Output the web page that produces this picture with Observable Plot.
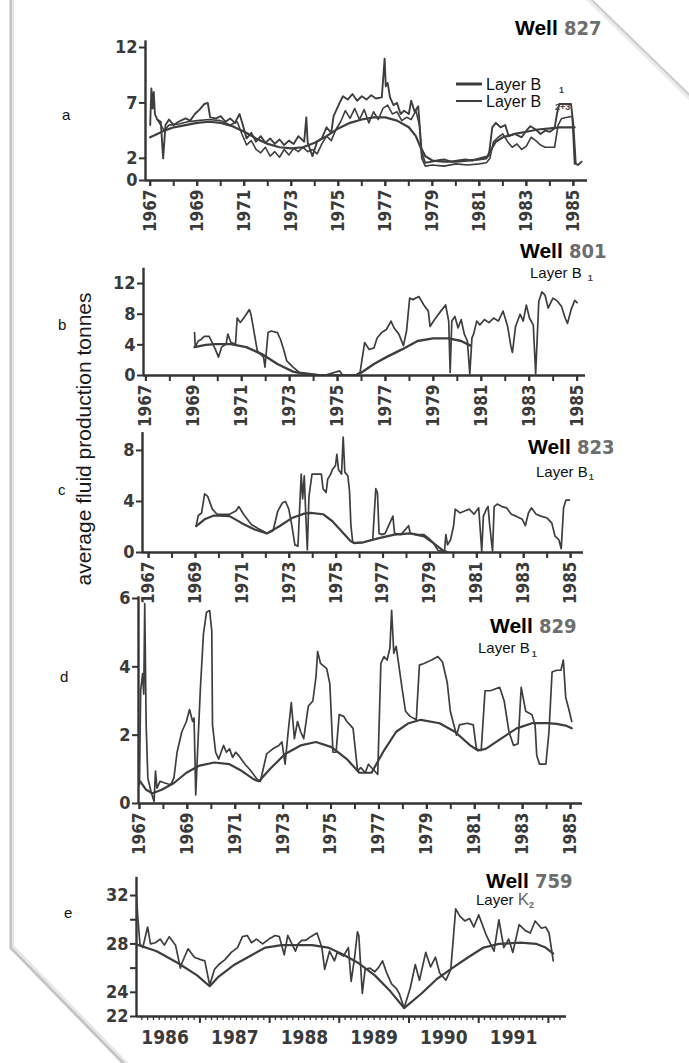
<!DOCTYPE html>
<html>
<head>
<meta charset="utf-8">
<script src="https://cdn.jsdelivr.net/npm/d3@7"></script>
<script src="https://cdn.jsdelivr.net/npm/@observablehq/plot@0.6"></script>
<style>
  html, body { margin: 0; padding: 0; background: #fff; }
  #page { position: relative; width: 689px; height: 1063px; overflow: hidden; background: #fff; }
  #page svg.plotsvg { position: absolute; left: 0; }
  #overlay { position: absolute; left: 0; top: 0; pointer-events: none; }
</style>
</head>
<body>
<div id="page"></div>
<script>
// ---------------- DATA ----------------
// Panel a – Well 827 (tonnes vs year)
const well827_B1 = [
  [1967.0,5.0],[1967.05,8.3],[1967.1,6.5],[1967.15,8.0],[1967.2,6.0],[1967.3,5.5],[1967.45,5.3],[1967.55,2.0],[1967.65,5.0],[1967.8,5.5],
  [1968.0,5.0],[1968.2,5.3],[1968.5,5.6],[1968.7,5.4],[1968.9,6.0],[1969.1,6.4],[1969.3,6.9],[1969.45,7.0],[1969.55,5.7],[1969.8,5.6],
  [1970.0,5.8],[1970.2,5.3],[1970.4,5.6],[1970.6,5.2],[1970.8,6.0],[1970.9,5.3],[1971.1,3.8],[1971.3,4.3],[1971.5,3.5],[1971.7,4.0],
  [1971.9,3.4],[1972.1,3.8],[1972.3,3.3],[1972.5,3.7],[1972.7,3.2],[1972.9,3.6],[1973.1,3.3],[1973.3,4.0],[1973.55,3.5],[1973.64,5.7],
  [1973.7,3.4],[1973.9,2.2],[1974.1,3.5],[1974.3,3.8],[1974.5,4.8],[1974.7,4.3],[1974.8,5.8],[1975.1,7.2],[1975.2,7.6],[1975.4,7.3],
  [1975.6,7.8],[1975.8,7.2],[1976.0,7.6],[1976.2,7.3],[1976.4,7.7],[1976.6,7.4],[1976.85,7.5],[1976.92,9.5],[1976.97,11.0],[1977.02,8.5],
  [1977.1,8.8],[1977.2,7.5],[1977.35,6.8],[1977.5,7.0],[1977.65,6.0],[1977.8,6.3],[1978.0,6.0],[1978.1,7.2],[1978.25,6.2],[1978.4,6.7],
  [1978.55,2.5],[1978.7,1.6],[1979.0,1.7],[1979.2,1.8],[1979.5,1.9],[1979.8,1.7],[1980.1,1.8],[1980.4,1.9],[1980.7,1.8],[1981.0,2.0],
  [1981.2,2.1],[1981.4,2.2],[1981.55,4.8],[1981.7,5.2],[1981.9,4.8],[1982.1,5.0],[1982.25,4.0],[1982.5,4.2],[1982.8,3.9],[1983.0,4.5],
  [1983.17,4.9],[1983.4,4.6],[1983.6,4.2],[1983.8,4.5],[1984.0,4.4],[1984.2,4.7],[1984.3,6.0],[1984.4,6.9],[1984.9,6.9],[1985.0,5.0],
  [1985.1,1.5],[1985.2,1.4],[1985.35,1.7]
];
const well827_B23 = [
  [1967.3,5.5],[1967.6,4.5],[1967.8,5.0],[1968.2,5.1],[1968.6,5.3],[1969.0,5.4],[1969.5,5.5],[1970.0,5.4],[1970.4,5.0],[1970.7,5.3],
  [1970.9,4.2],[1971.1,3.2],[1971.3,3.6],[1971.5,2.8],[1971.7,2.5],[1971.9,3.0],[1972.1,2.2],[1972.3,2.6],[1972.5,2.1],[1972.7,2.8],
  [1972.9,2.3],[1973.1,2.9],[1973.3,2.6],[1973.5,3.0],[1973.7,2.6],[1973.9,2.8],[1974.1,2.4],[1974.3,3.3],[1974.5,4.0],[1974.7,3.6],
  [1974.9,4.6],[1975.1,5.3],[1975.3,6.3],[1975.5,5.6],[1975.7,6.5],[1975.9,5.5],[1976.1,6.4],[1976.3,5.2],[1976.5,6.2],[1976.7,5.5],
  [1976.9,6.5],[1977.1,6.8],[1977.3,6.0],[1977.5,6.2],[1977.7,5.4],[1977.9,5.7],[1978.1,5.5],[1978.3,6.3],[1978.45,5.0],[1978.55,2.0],
  [1978.7,1.3],[1979.0,1.4],[1979.5,1.3],[1980.0,1.5],[1980.5,1.4],[1981.0,1.5],[1981.3,1.6],[1981.45,2.0],[1981.6,3.5],[1981.8,3.9],
  [1982.0,4.2],[1982.2,3.5],[1982.4,3.0],[1982.6,3.3],[1982.8,2.8],[1983.0,3.1],[1983.2,3.9],[1983.4,3.6],[1983.6,3.2],[1983.8,3.0],
  [1984.0,3.0],[1984.2,3.0],[1984.35,5.0],[1984.5,5.6],[1984.95,5.8],[1985.05,1.5]
];
const well827_trend = [
  [1967.0,3.9],[1967.3,4.2],[1967.6,4.5],[1968.0,4.8],[1968.5,5.0],[1969.0,5.2],[1969.5,5.3],[1970.0,5.2],[1970.5,4.9],[1971.0,4.4],
  [1971.5,3.8],[1972.0,3.3],[1972.5,3.0],[1973.0,2.9],[1973.5,3.0],[1974.0,3.4],[1974.5,4.0],[1975.0,4.7],[1975.5,5.2],[1976.0,5.5],
  [1976.5,5.7],[1977.0,5.7],[1977.5,5.4],[1978.0,4.8],[1978.3,4.0],[1978.5,3.0],[1978.7,2.2],[1979.0,1.8],[1979.5,1.7],[1980.0,1.7],
  [1980.5,1.8],[1981.0,1.9],[1981.3,2.0],[1981.5,2.8],[1981.7,3.5],[1982.0,3.9],[1982.5,4.2],[1983.0,4.4],[1983.5,4.6],[1984.0,4.7],
  [1984.4,4.8],[1985.05,4.8]
];
// Panel b – Well 801
const well801_B1 = [
  [1969.03,5.6],[1969.06,3.7],[1969.18,4.5],[1969.31,4.7],[1969.44,5.1],[1969.64,5.1],[1969.77,4.3],[1969.90,3.4],[1970.03,2.4],[1970.16,3.7],
  [1970.35,4.1],[1970.42,5.4],[1970.55,4.3],[1970.74,4.1],[1970.81,7.5],[1970.94,6.9],[1971.13,7.7],[1971.32,8.6],[1971.39,7.9],[1971.52,5.6],
  [1971.65,3.2],[1971.78,2.8],[1971.91,2.4],[1971.97,1.1],[1972.10,5.6],[1972.23,5.8],[1972.49,5.6],[1972.62,4.7],[1972.75,3.4],[1972.88,1.9],
  [1973.14,1.1],[1973.40,0.4],[1973.92,0.2],[1974.44,0],[1975.09,0.6],[1975.22,0],[1975.74,0],[1975.94,0.4],[1976.13,4.3],[1976.32,3.4],
  [1976.52,3.6],[1976.65,4.9],[1976.84,5.6],[1977.04,6.0],[1977.23,7.1],[1977.36,6.2],[1977.56,5.4],[1977.75,3.9],[1977.88,5.8],[1978.01,10.1],
  [1978.14,9.9],[1978.40,10.3],[1978.60,9.2],[1978.79,8.4],[1978.86,6.4],[1979.05,7.3],[1979.31,8.4],[1979.51,9.2],[1979.64,7.1],[1979.70,0.4],
  [1979.77,7.1],[1979.90,7.7],[1980.03,6.2],[1980.16,7.3],[1980.29,5.4],[1980.42,4.5],[1980.52,0.2],[1980.61,4.9],[1980.68,5.4],[1980.81,7.1],
  [1980.94,6.6],[1981.13,7.3],[1981.32,6.9],[1981.52,7.5],[1981.71,7.1],[1981.91,8.4],[1982.10,6.4],[1982.23,3.9],[1982.30,3.0],[1982.43,6.4],
  [1982.62,8.0],[1982.75,7.1],[1982.88,9.2],[1983.01,7.5],[1983.17,6.6],[1983.27,0.2],[1983.40,9.7],[1983.53,10.9],[1983.66,10.5],[1983.79,8.8],
  [1983.99,10.1],[1984.18,9.7],[1984.35,9.0],[1984.5,7.5],[1984.6,6.8],[1984.75,8.6],[1984.9,9.8],[1985.0,9.5]
];
const well801_trend = [
  [1969.03,3.7],[1969.5,4.0],[1969.9,4.1],[1970.55,4.1],[1971.19,3.7],[1971.84,2.8],[1972.49,1.5],[1973.14,0.5],[1973.79,0.1],[1974.44,0],
  [1975.74,0],[1976.0,0.4],[1976.52,1.5],[1977.04,2.4],[1977.69,3.4],[1978.34,4.5],[1978.99,4.85],[1979.64,4.85],[1980.16,4.5],[1980.55,3.9]
];
// Panel c – Well 823
const well823_B1 = [
  [1969.03,2.1],[1969.12,2.9],[1969.26,3.1],[1969.39,4.6],[1969.52,4.4],[1969.72,3.4],[1969.92,3.0],[1970.19,3.0],[1970.45,3.0],[1970.72,3.25],
  [1970.85,3.6],[1971.05,3.0],[1971.38,2.2],[1971.65,1.9],[1972.05,1.5],[1972.31,1.7],[1972.51,3.25],[1972.71,3.9],[1972.84,4.0],[1972.98,3.4],
  [1973.11,2.1],[1973.24,0.6],[1973.37,0.5],[1973.51,6.15],[1973.57,4.2],[1973.64,6.0],[1973.71,2.7],[1973.77,0.2],[1973.84,4.4],[1973.97,6.15],
  [1974.17,6.15],[1974.37,6.15],[1974.44,5.0],[1974.57,4.7],[1974.64,5.75],[1974.77,6.15],[1974.84,6.5],[1974.97,6.8],[1975.03,7.7],[1975.10,6.5],
  [1975.23,6.15],[1975.30,9.05],[1975.37,6.3],[1975.50,6.0],[1975.57,4.8],[1975.63,2.1],[1975.70,0.9],[1975.76,0.75],[1976.16,0.8],[1976.56,1.0],
  [1976.69,5.0],[1976.76,4.7],[1976.83,1.5],[1976.96,1.4],[1977.09,1.5],[1977.42,2.85],[1977.49,1.5],[1977.76,1.4],[1978.09,2.1],[1978.16,1.5],
  [1978.42,1.4],[1978.75,1.4],[1978.95,1.1],[1979.15,0.75],[1979.35,0.15],[1979.62,0.1],[1979.68,1.4],[1979.75,0.6],[1979.88,1.0],[1980.01,2.1],
  [1980.08,3.4],[1980.28,3.1],[1980.48,3.25],[1980.68,3.4],[1980.88,3.0],[1981.08,3.5],[1981.21,0.1],[1981.28,2.85],[1981.41,3.4],[1981.48,3.6],
  [1981.54,2.3],[1981.67,0.1],[1981.74,3.6],[1981.87,3.8],[1982.07,3.6],[1982.27,3.5],[1982.47,3.0],[1982.67,2.85],[1982.94,2.6],[1983.07,2.1],
  [1983.20,3.1],[1983.33,3.5],[1983.53,3.0],[1983.73,2.85],[1984.00,2.7],[1984.20,2.3],[1984.33,1.3],[1984.5,1.0],[1984.6,0.3],[1984.7,3.5],
  [1984.8,4.1],[1984.95,4.1]
];
const well823_trend = [
  [1969.03,2.06],[1969.39,2.6],[1969.79,2.9],[1970.45,2.85],[1970.98,2.3],[1971.52,1.8],[1972.05,1.5],[1972.58,2.06],[1973.11,2.7],[1973.64,3.05],
  [1973.91,3.1],[1974.44,3.0],[1974.84,2.45],[1975.23,1.66],[1975.63,0.87],[1975.76,0.74],[1976.16,0.8],[1976.83,1.13],[1977.49,1.4],[1978.16,1.5],
  [1978.75,1.27],[1979.15,0.74],[1979.55,0.16],[1979.75,0.03]
];
// Panel d – Well 829
const well829_B1 = [
  [1967.0,0.55],[1967.05,3.3],[1967.13,3.8],[1967.18,3.2],[1967.22,5.85],[1967.28,2.3],[1967.35,0.75],[1967.48,0.35],[1967.61,0.06],[1967.67,0.95],
  [1967.73,0.45],[1967.86,0.65],[1968.06,0.6],[1968.31,0.55],[1968.44,0.75],[1968.57,1.5],[1968.77,2.1],[1968.96,2.4],[1969.09,2.75],[1969.22,2.4],
  [1969.28,2.5],[1969.35,0.25],[1969.41,1.25],[1969.54,3.3],[1969.67,4.95],[1969.80,5.6],[1969.93,5.65],[1970.02,5.05],[1970.05,2.3],[1970.18,1.5],
  [1970.31,1.3],[1970.51,1.7],[1970.63,1.5],[1970.76,1.6],[1970.89,1.35],[1971.02,1.5],[1971.15,1.4],[1971.41,1.15],[1971.66,0.95],[1971.92,0.7],
  [1972.05,0.65],[1972.31,1.45],[1972.57,1.6],[1972.82,1.7],[1972.95,1.8],[1973.08,1.15],[1973.21,2.1],[1973.34,2.95],[1973.47,1.9],[1973.60,2.4],
  [1973.73,2.1],[1973.86,1.9],[1974.05,2.85],[1974.24,3.0],[1974.37,3.7],[1974.44,4.45],[1974.56,4.1],[1974.82,3.95],[1974.95,3.5],[1975.08,1.5],
  [1975.21,1.5],[1975.34,2.6],[1975.53,2.55],[1975.66,2.4],[1975.79,2.3],[1975.92,2.2],[1976.11,0.95],[1976.24,1.05],[1976.43,0.9],[1976.56,1.15],
  [1976.82,0.95],[1976.95,0.85],[1977.08,4.1],[1977.21,4.3],[1977.34,4.2],[1977.46,4.55],[1977.53,5.65],[1977.62,4.4],[1977.72,4.6],[1977.85,3.95],
  [1977.98,3.3],[1978.11,2.7],[1978.30,2.55],[1978.56,2.45],[1978.69,4.05],[1978.88,4.1],[1979.20,4.2],[1979.46,4.3],[1979.65,4.15],[1979.85,3.55],
  [1979.98,2.7],[1980.11,2.35],[1980.24,2.0],[1980.36,2.3],[1980.69,2.35],[1980.94,2.3],[1981.07,1.6],[1981.27,1.55],[1981.43,3.3],[1981.65,3.3],
  [1981.85,3.35],[1982.04,3.4],[1982.23,3.0],[1982.43,2.1],[1982.62,1.7],[1982.81,1.75],[1982.94,3.4],[1983.13,2.7],[1983.39,2.6],[1983.52,2.3],
  [1983.59,1.4],[1983.71,1.15],[1983.97,1.15],[1984.10,2.1],[1984.23,3.85],[1984.42,3.9],[1984.6,3.9],[1984.7,4.2],[1984.8,3.1],[1984.95,2.7],
  [1985.05,2.4]
];
const well829_trend = [
  [1967.03,0.65],[1967.28,0.4],[1967.54,0.3],[1967.93,0.4],[1968.44,0.6],[1968.96,0.9],[1969.47,1.1],[1970.12,1.2],[1970.76,1.15],[1971.28,0.95],
  [1971.79,0.7],[1971.99,0.65],[1972.44,1.0],[1973.08,1.45],[1973.73,1.7],[1974.37,1.8],[1975.02,1.65],[1975.66,1.3],[1976.18,0.9],[1976.69,0.9],
  [1977.21,1.55],[1977.72,2.1],[1978.24,2.35],[1978.75,2.45],[1979.53,2.35],[1980.17,2.1],[1980.81,1.7],[1981.14,1.55],[1981.46,1.6],[1982.1,1.9],
  [1982.75,2.2],[1983.39,2.35],[1984.04,2.35],[1984.42,2.33],[1984.8,2.28],[1985.05,2.2]
];
// Panel e – Well 759
const well759_K2 = [
  [1986.07,28.0],[1986.09,31.9],[1986.11,30.1],[1986.14,28.0],[1986.18,27.7],[1986.25,29.4],[1986.29,28.0],[1986.36,28.1],[1986.43,28.4],[1986.49,27.9],
  [1986.56,28.6],[1986.65,27.9],[1986.72,26.0],[1986.74,26.4],[1986.83,27.6],[1986.92,26.9],[1987.01,26.7],[1987.07,26.6],[1987.14,24.6],[1987.21,25.9],
  [1987.27,26.3],[1987.36,26.7],[1987.45,27.3],[1987.54,27.7],[1987.61,28.6],[1987.68,28.7],[1987.74,28.1],[1987.81,28.4],[1987.90,28.0],[1987.99,28.4],
  [1988.08,28.7],[1988.14,28.6],[1988.21,27.1],[1988.26,28.7],[1988.32,28.0],[1988.37,27.4],[1988.41,28.0],[1988.46,28.3],[1988.52,28.3],[1988.59,28.6],
  [1988.68,28.9],[1988.75,27.7],[1988.79,25.9],[1988.86,27.4],[1988.93,26.6],[1988.97,27.3],[1989.06,27.0],[1989.13,27.7],[1989.17,24.9],[1989.22,26.9],
  [1989.26,29.0],[1989.28,28.7],[1989.33,23.9],[1989.37,25.9],[1989.44,26.0],[1989.51,25.7],[1989.57,26.1],[1989.62,26.6],[1989.68,25.6],[1989.75,24.7],
  [1989.82,24.3],[1989.86,23.9],[1989.93,22.7],[1990.02,24.4],[1990.09,26.3],[1990.15,25.0],[1990.24,27.3],[1990.31,26.1],[1990.38,26.9],[1990.44,25.6],
  [1990.53,25.0],[1990.60,25.9],[1990.67,30.9],[1990.73,30.3],[1990.80,29.9],[1990.87,30.1],[1990.93,29.4],[1991.00,30.4],[1991.11,28.7],[1991.22,27.4],
  [1991.29,30.0],[1991.36,27.7],[1991.43,28.4],[1991.49,27.3],[1991.58,29.6],[1991.67,29.1],[1991.74,28.9],[1991.81,29.9],[1991.90,29.3],[1991.96,29.4],
  [1992.01,28.9],[1992.07,26.6]
];
const well759_trend = [
  [1986.07,28.0],[1986.38,27.4],[1986.69,26.4],[1986.96,25.4],[1987.14,24.5],[1987.27,25.3],[1987.5,26.3],[1987.72,27.0],[1987.94,27.7],[1988.17,27.9],
  [1988.61,27.9],[1988.84,27.7],[1989.06,27.1],[1989.28,26.4],[1989.51,25.4],[1989.73,24.1],[1989.93,22.7],[1990.18,23.9],[1990.4,25.1],[1990.62,26.0],
  [1990.85,26.9],[1991.07,27.7],[1991.29,28.0],[1991.6,28.1],[1991.83,28.0],[1991.96,27.7],[1992.07,27.2]
];
// Tick labels
const yearsAll = [1967,1968,1969,1970,1971,1972,1973,1974,1975,1976,1977,1978,1979,1980,1981,1982,1983,1984,1985];
const yearsLabelled = [1967,1969,1971,1973,1975,1977,1979,1981,1983,1985];
const yTicksA = [0,2,7,12];
const yTicksB = [0,4,8,12];
const yTicksC = [0,4,8];
const yTicksD = [0,2,4,6];
const yTicksE = [22,24,26,28,30,32];
const yLabelsE = [22,24,28,32];
const yearsE = [1986,1987,1988,1989,1990,1991];

// ---------------- RENDER ----------------
const W = 689;
const INK = "#333";
const TICKTXT = "#3a3a3a";
const LINE = "#3e3e3e";
const NARROW = '"Liberation Sans Narrow","Arial Narrow","DejaVu Sans Condensed",sans-serif';
const page = document.getElementById("page");

function panel(cfg) {
  const {top, height, xDomain, xLeft, xRight, yDomain, yBottom, yTop, marks, yTicks, yFormat, xAxis} = cfg;
  const svg = Plot.plot({
    width: W, height,
    marginLeft: xLeft, marginRight: W - xRight,
    marginTop: yTop - top, marginBottom: top + height - yBottom,
    x: {domain: xDomain},
    y: {domain: yDomain},
    style: {background: "transparent", fontFamily: NARROW, fontSize: "17px", color: INK, overflow: "visible"},
    marks: [
      ...xAxis,
      Plot.axisY({ticks: yTicks, tickSize: 6, tickPadding: 2, strokeWidth: 2, stroke: INK, fill: TICKTXT, fontWeight: "bold",
        tickFormat: yFormat || (d => String(d)), label: null, fontSize: 18}),
      Plot.ruleX([xDomain[0]], {stroke: INK, strokeWidth: 2.4}),
      Plot.ruleY([yDomain[0]], {stroke: INK, strokeWidth: 2.6}),
      ...marks
    ]
  });
  svg.classList.add("plotsvg");
  svg.style.top = top + "px";
  page.appendChild(svg);
}

function yearAxis() {
  return [
    Plot.axisX({ticks: yearsAll, tickSize: 6, strokeWidth: 2, stroke: INK, tickFormat: () => "", label: null}),
    Plot.axisX({ticks: yearsLabelled, tickSize: 6, strokeWidth: 2, stroke: INK, fill: TICKTXT, fontWeight: "bold", tickRotate: -90, tickPadding: 3,
      tickFormat: d => String(d), label: null, fontSize: 17})
  ];
}
const lineOpts = (w) => ({x: d => d[0], y: d => d[1], stroke: LINE, strokeWidth: w, strokeLinejoin: "round", clip: true});

// a
panel({top: 20, height: 230, xDomain: [1966.8, 1985.6], xLeft: 145, xRight: 587,
  yDomain: [0, 12.6], yBottom: 180, yTop: 40.35, yTicks: yTicksA, xAxis: yearAxis(),
  marks: [Plot.line(well827_trend, lineOpts(2.2)), Plot.line(well827_B23, lineOpts(1.6)), Plot.line(well827_B1, lineOpts(1.9))]});
// b
panel({top: 250, height: 180, xDomain: [1966.9, 1985.35], xLeft: 143, xRight: 585,
  yDomain: [0, 14], yBottom: 375, yTop: 267.7, yTicks: yTicksB, xAxis: yearAxis(),
  marks: [Plot.line(well801_trend, lineOpts(2.4)), Plot.line(well801_B1, lineOpts(1.7))]});
// c
panel({top: 420, height: 180, xDomain: [1966.74, 1985.55], xLeft: 142, xRight: 583,
  yDomain: [0, 9.4], yBottom: 552, yTop: 432.1, yTicks: yTicksC, xAxis: yearAxis(),
  marks: [Plot.line(well823_trend, lineOpts(2.2)), Plot.line(well823_B1, lineOpts(1.7))]});
// d
panel({top: 585, height: 270, xDomain: [1966.96, 1985.5], xLeft: 138, xRight: 582,
  yDomain: [0, 6.05], yBottom: 803, yTop: 596.3, yTicks: yTicksD, xAxis: yearAxis(),
  marks: [Plot.line(well829_trend, lineOpts(2.2)), Plot.line(well829_B1, lineOpts(1.7))]});
// e
const monthTicks = d3.range(1, 76).map(i => 1986 + i / 12).filter(v => v > 1986.1 && v < 1992.25);
panel({top: 865, height: 198, xDomain: [1986.09, 1992.26], xLeft: 136, xRight: 566,
  yDomain: [22, 33.5], yBottom: 1016, yTop: 876.9, yTicks: yTicksE,
  yFormat: d => yLabelsE.includes(d) ? String(d) : "",
  xAxis: [
    Plot.axisX({ticks: monthTicks, tickSize: 4, strokeWidth: 1.3, stroke: INK, tickFormat: () => "", label: null}),
    Plot.axisX({ticks: yearsE.map(y => y + 1), tickSize: 7, strokeWidth: 2, stroke: INK, tickFormat: () => "", label: null}),
    Plot.axisX({ticks: yearsE.map(y => y + 0.5), tickSize: 0, tickPadding: 14, fill: TICKTXT, fontWeight: "bold",
      tickFormat: d => String(Math.floor(d)), label: null, fontSize: 19})
  ],
  marks: [Plot.line(well759_trend, lineOpts(2.2)), Plot.line(well759_K2, lineOpts(1.7))]});

// ---------------- OVERLAY (page edge, labels, titles) ----------------
const ov = d3.select(page).append("svg").attr("id", "overlay").attr("width", W).attr("height", 1063);
ov.append("polyline")
  .attr("points", "11,-5 11,948 128,1068")
  .attr("fill", "none").attr("stroke", "#c4c4c4").attr("stroke-width", 3);
ov.append("polyline")
  .attr("points", "13,-5 13,946 130,1066")
  .attr("fill", "none").attr("stroke", "#e6e6e6").attr("stroke-width", 2);
ov.append("polyline")
  .attr("points", "586,-5 694,100")
  .attr("fill", "none").attr("stroke", "#cdcdcd").attr("stroke-width", 3);
ov.append("polyline")
  .attr("points", "583,-5 694,103")
  .attr("fill", "none").attr("stroke", "#ececec").attr("stroke-width", 3);

const SANS = '"Liberation Sans", Arial, sans-serif';
function txt(x, y, s, opts = {}) {
  const t = ov.append("text").attr("x", x).attr("y", y).text(s)
    .attr("font-family", opts.family || SANS).attr("font-size", opts.size || 15)
    .attr("font-weight", opts.weight || "normal").attr("fill", opts.fill || "#111");
  if (opts.anchor) t.attr("text-anchor", opts.anchor);
  return t;
}
function title(x, y, num) {
  const t = ov.append("text").attr("x", x).attr("y", y);
  t.append("tspan").text("Well").attr("font-family", SANS).attr("font-weight", "bold").attr("font-size", 21).attr("fill", "#000");
  t.append("tspan").text(" " + num).attr("font-family", NARROW).attr("font-weight", "bold").attr("font-size", 20).attr("fill", "#6e6e6e");
}
function layer(x, y, main, sub, subDy, subDx, subFill) {
  const t = ov.append("text").attr("x", x).attr("y", y).attr("font-family", SANS).attr("font-size", 15).attr("fill", "#111");
  t.append("tspan").text(main);
  t.append("tspan").text(sub).attr("font-size", 9).attr("dx", subDx).attr("dy", subDy).attr("fill", subFill || "#444").attr("font-weight", "bold");
}

// panel letters
txt(62, 120, "a"); txt(58, 330, "b"); txt(58, 495, "c"); txt(60, 682, "d"); txt(64, 918, "e");
// y axis title
ov.append("text").attr("transform", "translate(91,439) rotate(-90)").attr("text-anchor", "middle")
  .attr("font-family", SANS).attr("font-size", 21).attr("fill", "#1a1a1a").text("average fluid production tonnes");

// titles
title(515, 35, "827");
title(520, 258, "801");
title(528, 454, "823");
title(490, 633, "829");
title(486, 888, "759");

// legend a
ov.append("line").attr("x1", 456).attr("x2", 482).attr("y1", 84).attr("y2", 84).attr("stroke", LINE).attr("stroke-width", 3);
ov.append("line").attr("x1", 456).attr("x2", 482).attr("y1", 101).attr("y2", 101).attr("stroke", LINE).attr("stroke-width", 2);
ov.append("text").attr("x", 486).attr("y", 90).attr("font-family", SANS).attr("font-size", 16).attr("fill", "#111").text("Layer B");
ov.append("text").attr("x", 486).attr("y", 107).attr("font-family", SANS).attr("font-size", 16).attr("fill", "#111").text("Layer B");
txt(559, 93, "1", {size: 9, weight: "bold", fill: "#444"});
txt(555, 110, "2+3", {size: 9, weight: "bold", fill: "#444"});
// layers
layer(530, 278, "Layer B", "1", 3, 6);
layer(536, 477, "Layer B", "1", 3, 1);
layer(478, 653, "Layer B", "1", 4, 2);
const k = ov.append("text").attr("x", 476).attr("y", 905).attr("font-family", SANS).attr("font-size", 15).attr("fill", "#111");
k.append("tspan").text("Layer ");
k.append("tspan").text("K").attr("fill", "#666").attr("font-size", 17);
k.append("tspan").text("2").attr("fill", "#666").attr("font-size", 9).attr("dy", 3).attr("font-weight", "bold");
</script>
</body>
</html>
